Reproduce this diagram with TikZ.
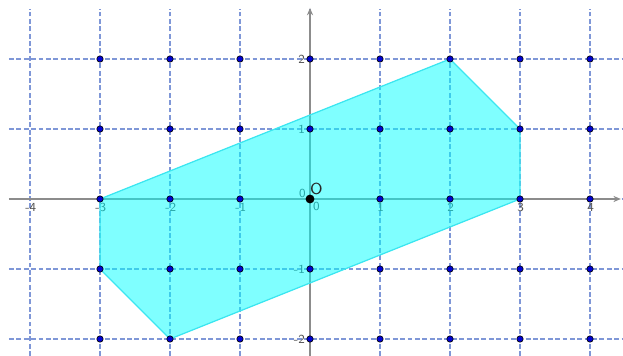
\documentclass[tikz,border=0pt]{standalone}
\usetikzlibrary{arrows.meta}
\begin{document}
\begin{tikzpicture}[
    gridline/.style={draw={rgb,255:red,95;green,125;blue,205}, draw opacity=0.8, line width=0.45pt, dash pattern=on 2pt off 1pt},
    axisline/.style={draw={rgb,255:red,140;green,140;blue,140}, line width=0.7pt, -{Stealth[length=3pt,width=2.5pt]}},
    ticklabel/.style={font=\sffamily\fontsize{5}{6}\selectfont, text={rgb,255:red,80;green,80;blue,80}, inner sep=0.5pt},
    latticept/.style={circle, fill={rgb,255:red,0;green,0;blue,210}, draw=black, line width=0.25pt, inner sep=0pt, minimum size=2.6pt}
]
    \useasboundingbox (-4.4286,-2.2429) rectangle (4.4714,2.8429);

    % Grid
    \foreach \x in {-4,...,4}
        \draw[gridline] (\x,-2.2429) -- (\x,2.714);
    \foreach \y in {-2,...,2}
        \draw[gridline] (-4.3,\y) -- (4.4714,\y);

    % Axes
    \draw[axisline] (-4.3,0) -- (4.44,0);
    \draw[axisline] (0,-2.2429) -- (0,2.73);

    % Tick labels
    \foreach \x in {-4,-3,-2,-1,1,2,3,4}
        \node[ticklabel, anchor=north] (lx\x) at (\x+0.01,-0.04) {\x};
    \foreach \y in {-2,-1,1,2}
        \node[ticklabel, anchor=east] (ly\y) at (-0.05,\y) {\y};
    \node[ticklabel] (lx0) at (0.09,-0.1) {0};
    \node[ticklabel] (ly0) at (-0.11,0.08) {0};

    % Polygon
    \fill[fill={rgb,255:red,0;green,255;blue,255}, fill opacity=0.5] (-3,0) -- (2,2) -- (3,1) -- (3,0) -- (-2,-2) -- (-3,-1) -- cycle;
    \draw[draw={rgb,255:red,60;green,230;blue,240}, line width=0.5pt] (-3,0) -- (2,2) -- (3,1) -- (3,0) -- (-2,-2) -- (-3,-1) -- cycle;

    % Lattice points
    \foreach \x in {-3,...,4}
        \foreach \y in {-2,-1,1,2}
            \node[latticept] (p\x\y) at (\x,\y) {};
    \foreach \x in {-3,-2,-1,1,2,3,4}
        \node[latticept] (p\x0) at (\x,0) {};

    % Origin
    \node[circle, fill=black, inner sep=0pt, minimum size=3.6pt] (O) at (0,0) {};
    \node[font=\sffamily\fontsize{6.5}{7}\selectfont, text={rgb,255:red,40;green,40;blue,40}] (Olabel) at (0.09,0.14) {O};
\end{tikzpicture}
\end{document}
